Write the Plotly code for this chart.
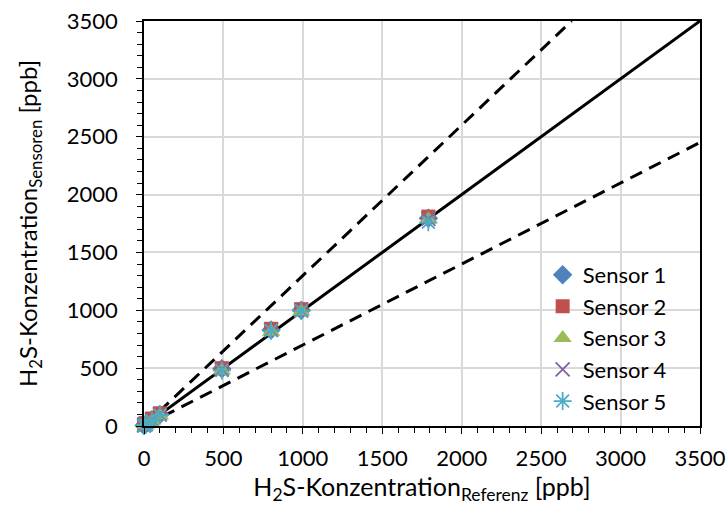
import plotly.graph_objects as go

# Reference concentration (ppb) and sensor readings (ppb)
referenz = [0, 10, 50, 100, 490, 800, 990, 1790]
sensor_1 = [5, 15, 55, 100, 495, 830, 1000, 1795]
sensor_2 = [15, 25, 65, 110, 500, 840, 1010, 1810]
sensor_3 = [-5, 5, 40, 90, 480, 815, 990, 1785]
sensor_4 = [5, 15, 50, 100, 490, 830, 1000, 1790]
sensor_5 = [0, 10, 45, 95, 480, 825, 995, 1760]

# Reference lines: identity and +/-30 % bounds
line_x = [0, 3500]
ideal_y = [0, 3500]
upper_x = [0, 3500 / 1.3]
upper_y = [0, 3500]
lower_y = [0, 3500 * 0.7]

series = [
    ("Sensor 1", sensor_1, "#4F81BD", "diamond", 15),
    ("Sensor 2", sensor_2, "#C0504D", "square", 14),
    ("Sensor 3", sensor_3, "#9BBB59", "triangle-up", 16),
    ("Sensor 4", sensor_4, "#8064A2", "x-thin-open", 14),
    ("Sensor 5", sensor_5, "#4BACC6", "asterisk-open", 15),
]

fig = go.Figure()

fig.add_trace(go.Scatter(x=line_x, y=ideal_y, mode="lines",
                         line=dict(color="black", width=3),
                         showlegend=False, hoverinfo="skip"))
fig.add_trace(go.Scatter(x=upper_x, y=upper_y, mode="lines",
                         line=dict(color="black", width=3, dash="13px,8px"),
                         showlegend=False, hoverinfo="skip"))
fig.add_trace(go.Scatter(x=line_x, y=lower_y, mode="lines",
                         line=dict(color="black", width=3, dash="13px,8px"),
                         showlegend=False, hoverinfo="skip"))

for name, vals, color, symbol, size in series:
    open_sym = symbol.endswith("open")
    fig.add_trace(go.Scatter(
        x=referenz, y=vals, mode="markers", name=name, cliponaxis=False,
        marker=dict(symbol=symbol, size=size, color=color,
                    line=dict(color=color, width=1.8 if open_sym else 0)),
    ))

font_family = "Lato, 'Liberation Sans', sans-serif"
axis_common = dict(
    range=[0, 3500], dtick=500, showgrid=True, gridcolor="#D9D9D9", gridwidth=1.5,
    zeroline=False, showline=True, linecolor="black", linewidth=1.5, mirror=True,
    ticks="outside", ticklen=6, tickwidth=1.2, tickcolor="black",
    minor=dict(dtick=100, ticks="outside", ticklen=5, tickcolor="black",
               tickwidth=1.2, showgrid=False),
    tickfont=dict(family=font_family, size=22, color="black"),
    ticklabeloverflow="allow",
    automargin=False,
    fixedrange=True,
)

fig.update_layout(
    width=728, height=508,
    margin=dict(l=144, r=28, t=21, b=82),
    paper_bgcolor="white", plot_bgcolor="white",
    font=dict(family=font_family, color="black"),
    xaxis=dict(axis_common,
               title=dict(text="H<sub>2</sub>S-Konzentration<sub>Referenz</sub> [ppb]",
                          font=dict(size=25), standoff=8),
               ticklabelstandoff=6),
    yaxis=dict(axis_common,
               title=dict(text="H<sub>2</sub>S-Konzentration<sub>Sensoren</sub> [ppb]",
                          font=dict(size=24), standoff=22),
               ticklabelstandoff=14),
    legend=dict(x=0.717, y=0.425, xanchor="left", yanchor="top",
                bgcolor="rgba(0,0,0,0)", font=dict(size=22, color="black"),
                itemwidth=30, tracegroupgap=0),
)

fig.write_html("out.html")
